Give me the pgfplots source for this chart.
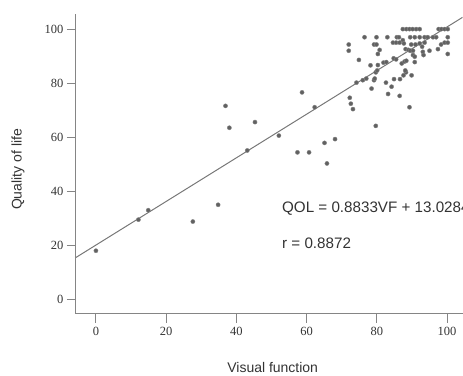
\documentclass[border=0pt]{standalone}
\usepackage{pgfplots}
\pgfplotsset{compat=1.18}
\usepackage{fontspec}
\setmainfont{Liberation Sans}
\newfontfamily\tickfont{Liberation Serif}
\definecolor{axgray}{HTML}{858585}
\definecolor{ptgray}{HTML}{505050}
\definecolor{lngray}{HTML}{777777}
\begin{document}
\begin{tikzpicture}
\begin{axis}[
  name=ax,
  scale only axis,
  width=387bp, height=300bp,
  xmin=-5.7, xmax=104.4,
  ymin=-5.28, ymax=105.6,
  axis lines*=left,
  axis line style={axgray, line width=1pt, -},
  xtick={0,20,40,60,80,100},
  ytick={0,20,40,60,80,100},
  tick align=outside,
  major tick length=9bp,
  tick style={axgray, line width=0.9pt},
  /pgf/number format/assume math mode=true,
  tick label style={font=\tickfont\fontsize{12.5bp}{14bp}\selectfont, text=black!80},
  xticklabel style={yshift=-1bp},
  xlabel={Visual function},
  ylabel={Quality of life},
  xlabel style={at={(axis description cs:0.509,-0.179)}, anchor=center, font=\fontsize{14bp}{16bp}\selectfont, text=black!80},
  ylabel style={at={(axis description cs:-0.1499,0.481)}, anchor=center, font=\fontsize{14bp}{16bp}\selectfont, text=black!80},
]
\addplot[only marks, mark=*, mark size=2.1bp, ptgray, mark options={fill=ptgray!90, draw=ptgray!70, line width=0.4pt}] coordinates {
(0,18) (12.1,29.5) (14.9,33) (27.6,28.8) (34.8,35) (36.9,71.6) (38,63.5)
(43.1,55.1) (45.3,65.6) (52.1,60.6) (57.4,54.4) (58.7,76.6) (60.7,54.4)
(62.3,71.1) (65.1,57.9) (65.8,50.3) (68.1,59.3) (72.3,74.6) (72.6,72.4)
(73.2,70.4) (79.7,64.2) (89.3,71.1) (83.2,76) (86.5,75.3) (84.2,78.7)
(78.5,78) (82.6,80.2) (79.2,81.1) (79.4,81.7) (74.2,80.2) (76,81.1) (77,81.7)
(84.9,81.5) (86.6,81.5) (89.9,82.9) (88.3,84) (88.1,84.7) (87.6,82.9)
(79.7,84) (80.1,84.7) (78.2,86.6) (74.9,88.6) (80.3,86.7) (81.9,87.6)
(82.7,87.8) (84.8,89.2) (85.5,88.8) (87.1,87.3) (87.9,88) (88.4,88.3)
(90.8,87.8) (80.3,90.8) (80.8,92.3) (72,94.3) (72,92) (76.5,97) (79.9,97)
(83,97) (79.2,94.3) (79.9,94.3) (84.6,95) (85.5,95) (86.5,95) (87.4,95.9)
(87.7,94.7) (85.7,97) (86.3,97)
(87.4,100) (88.4,100) (89.3,100) (90.2,100) (91.2,100) (92.2,100)
(97.6,100) (98.4,100) (99.3,100) (100.2,100)
(89.5,97) (90.8,97) (92.2,97) (93.6,97) (94.5,97) (96,97) (96.9,97) (100.2,97)
(89.8,94.3) (91,94.3) (92.2,94.7) (93.6,95) (92.9,93.5) (98.3,94.3) (99.3,95) (100.2,95)
(88.2,92.6) (89,92.3) (89.5,92) (90.3,92) (93.1,91.6) (93.3,90.4)
(95,92) (97.4,92.6) (100.2,90.8) (90.3,90.4) (90.8,89.8)
};
\addplot[lngray, line width=1pt] coordinates {(-5.7,15.5) (104.4,104.35)};
\node[anchor=west, font=\fontsize{15.2bp}{17bp}\selectfont, text=black!80, inner sep=0pt] at (axis description cs:0.533,0.351) {QOL = 0.8833VF + 13.0284};
\node[anchor=west, font=\fontsize{15.2bp}{17bp}\selectfont, text=black!80, inner sep=0pt] at (axis description cs:0.533,0.234) {r = 0.8872};
\end{axis}
\path[use as bounding box] ([xshift=-76bp,yshift=-59.7bp]ax.south west) rectangle ([yshift=14bp]ax.north east);
\end{tikzpicture}
\end{document}
